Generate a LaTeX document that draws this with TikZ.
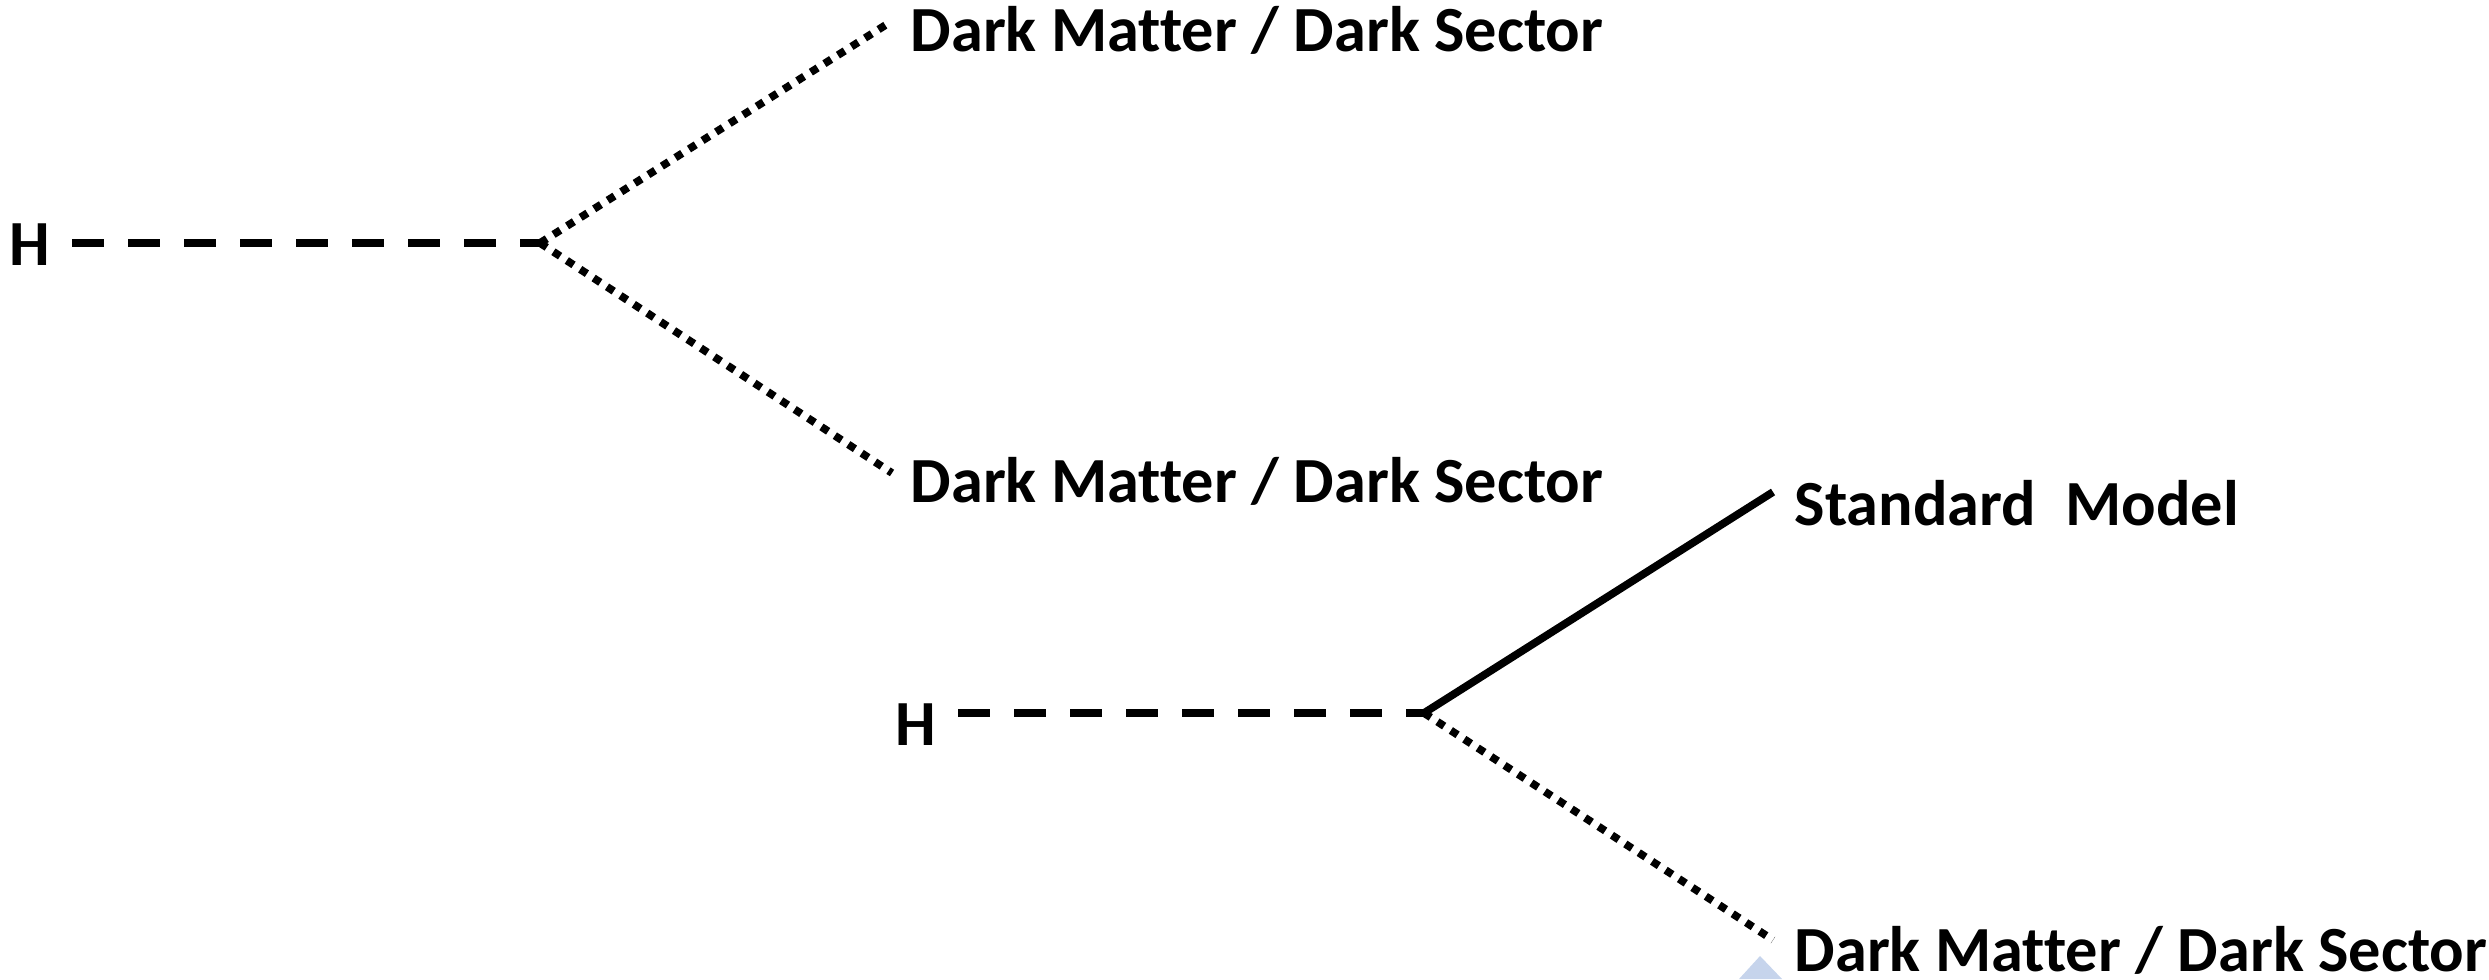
\documentclass[tikz,border=0pt]{standalone}
\usepackage{fontspec}
\setmainfont{Carlito}[Ligatures=NoCommon]
\usetikzlibrary{positioning}
\definecolor{markblue}{RGB}{198,212,236}

\begin{document}
\begin{tikzpicture}[
  x=0.01cm, y=-0.01cm,
  lbl/.style={font=\fontsize{18.3}{22}\selectfont\bfseries, inner sep=0pt, anchor=base west},
  higgs/.style={lbl, anchor=base},
  scalar/.style={line width=2.2pt, dash pattern=on 0.32cm off 0.24cm, shorten <=0.21cm},
  dark/.style={line width=2.2pt, dash pattern=on 0.08cm off 0.08cm},
  visible/.style={line width=2.2pt}
]
\useasboundingbox (0,0) rectangle (2489,979);
\fill[markblue] (1760,956) -- (1782,979) -- (1739,979) -- cycle;

\node[higgs] (h1) at (30,265) {H};
\coordinate (v1) at (540,243);
\coordinate (e1) at (892,21);
\coordinate (e2) at (892,473);
\node[lbl] (dm1) at (910,52) {Dark Matter / Dark Sector};
\node[lbl] (dm2) at (910,502) {Dark Matter / Dark Sector};
\draw[scalar] (h1.east |- v1) -- (v1);
\draw[dark] (v1) -- (e1);
\draw[dark] (v1) -- (e2);

\node[higgs] (h2) at (916,745) {H};
\coordinate (v2) at (1424,713);
\coordinate (e3) at (1773,492);
\coordinate (e4) at (1773,940);
\node[lbl] (sm) at (1794,525) {Standard\ \ Model};
\node[lbl] (dm3) at (1794,971) {Dark Matter / Dark Sector};
\draw[scalar] (h2.east |- v2) -- (v2);
\draw[visible] (v2) -- (e3);
\draw[dark] (v2) -- (e4);
\end{tikzpicture}
\end{document}
